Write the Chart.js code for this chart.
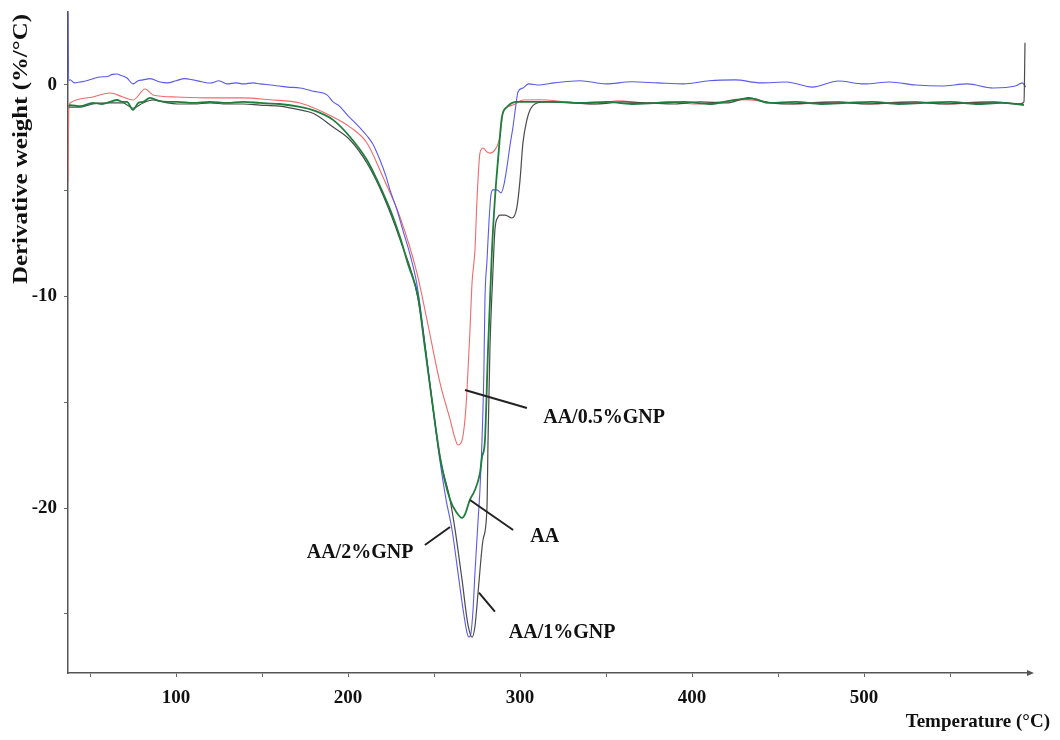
<!DOCTYPE html>
<html>
<head>
<meta charset="utf-8">
<script src="https://cdn.jsdelivr.net/npm/chart.js@4"></script>
<style>
  body { margin: 0; background: #fff; }
  canvas { display: block; }
</style>
</head>
<body>
<canvas id="dtgChart" width="1060" height="740"></canvas>
<script>
// DTG curves: temperature (°C) and derivative weight (%/°C)
const aaTemp = [37.5, 38.4, 44.2, 51.7, 57, 61.6, 65.7, 69.2, 71.5, 75, 78, 80.8, 84.9, 90, 95, 100.6, 110, 119.8, 129.6, 139, 148.8, 160, 172.1, 180, 191.3, 201.2, 211, 220.3, 225, 230.2, 235, 240.7, 244.5, 248.8, 253.5, 259.3, 263, 266.3, 268, 270.9, 273.8, 276.7, 277.9, 279.6, 281.4, 283.7, 285.4, 287.2, 289.5, 292.4, 298.2, 320, 335, 350, 365, 380, 395, 410, 425, 435, 445, 460, 475, 490, 505, 520, 535, 550, 565, 580, 593];
const aaDeriv = [-1.0, -0.95, -1.0, -0.85, -0.9, -0.8, -0.71, -0.8, -0.8, -1.18, -0.85, -0.8, -0.61, -0.75, -0.8, -0.8, -0.85, -0.8, -0.85, -0.8, -0.85, -0.9, -1.04, -1.2, -1.65, -2.46, -3.55, -5.1, -6.0, -7.19, -8.5, -10.0, -12.3, -14.9, -17.6, -19.6, -20.2, -20.47, -20.3, -19.6, -19.15, -18.35, -17.6, -16.8, -12.5, -7.8, -5.4, -3.55, -1.51, -1.04, -0.8, -0.8, -0.85, -0.8, -0.9, -0.85, -0.8, -0.9, -0.7, -0.65, -0.85, -0.8, -0.9, -0.85, -0.8, -0.9, -0.85, -0.8, -0.9, -0.85, -0.95];

const gnp05Temp = [37.2, 37.6, 38.4, 51.7, 61.6, 69.2, 75, 82.1, 86.6, 100.6, 119.8, 139, 154.6, 172.1, 191.3, 201.2, 211, 220.3, 230.2, 240.1, 245.9, 253.5, 259.3, 262.2, 263.9, 266.3, 268, 269.2, 270.9, 272.1, 273.8, 275, 276.7, 278.5, 280.8, 282.5, 285.4, 288.3, 290.1, 295.9, 301.7, 311.6, 327, 342, 357, 372, 387, 402, 417, 432, 447, 462, 477, 492, 507, 522, 537, 552, 567, 582, 593];
const gnp05Deriv = [-4.6, -1.2, -0.85, -0.57, -0.38, -0.57, -0.71, -0.19, -0.47, -0.57, -0.61, -0.61, -0.7, -0.85, -1.51, -1.99, -2.74, -4.35, -6.24, -8.89, -11.1, -14.1, -15.8, -16.7, -17.02, -16.8, -15.8, -14.4, -11.6, -9.36, -7.8, -5.4, -3.22, -2.98, -3.17, -3.22, -3.07, -2.46, -1.32, -0.95, -0.71, -0.7, -0.8, -0.9, -0.75, -0.85, -0.8, -0.9, -0.8, -0.7, -0.85, -0.9, -0.8, -0.85, -0.9, -0.8, -0.85, -0.9, -0.8, -0.85, -0.9];

const gnp1Temp = [37.5, 44.2, 51.7, 61.6, 69.2, 75, 80.8, 86.6, 95, 100.6, 110, 119.8, 129.6, 139, 148.8, 160, 172.1, 180, 191.3, 201.2, 211, 220.3, 230.2, 240.7, 248.8, 253.5, 259.3, 262.2, 266.3, 269.7, 272.1, 273.8, 275.6, 278.5, 280.8, 281.4, 282.5, 284.3, 285.4, 287.2, 288.3, 291.3, 295.3, 298.2, 300, 301.7, 304, 305.8, 309.9, 315.7, 330, 345, 360, 375, 390, 405, 420, 433, 440, 455, 470, 485, 500, 515, 530, 545, 560, 575, 590, 593, 593.6];
const gnp1Deriv = [-1.05, -1.05, -0.9, -0.85, -0.85, -1.1, -0.85, -0.7, -0.85, -0.9, -0.9, -0.85, -0.9, -0.9, -0.95, -1.0, -1.18, -1.35, -1.99, -2.6, -3.69, -5.2, -7.3, -10.1, -14.9, -17.6, -19.6, -21.0, -23.4, -25.5, -26.1, -25.6, -24.0, -21.5, -19.95, -16.8, -12.5, -8.75, -6.86, -6.24, -6.15, -6.15, -6.29, -5.77, -4.5, -2.74, -1.65, -1.18, -0.85, -0.8, -0.85, -0.9, -0.8, -0.85, -0.9, -0.8, -0.85, -0.6, -0.75, -0.9, -0.85, -0.8, -0.9, -0.85, -0.8, -0.9, -0.85, -0.8, -0.9, -0.8, 2.0];

const gnp2Temp = [37.2, 37.6, 38.4, 41, 44.2, 48, 52, 55.8, 60, 63, 65.7, 68, 71.5, 75, 78, 80.8, 85, 90.7, 95, 100, 105, 109.9, 115, 119.8, 125, 129.6, 135, 139, 145, 148.8, 155, 160, 165, 172.1, 180, 187.8, 191.3, 195, 199.4, 203, 207, 211, 214.5, 218.6, 222, 224.4, 228.5, 232, 236, 240, 242, 245, 248.8, 253.5, 257, 260.5, 264.5, 266.9, 269.2, 270.3, 271.5, 272.7, 273.8, 275.6, 276.7, 277.9, 279, 279.6, 280.8, 282, 283.1, 284.3, 286.6, 289, 290.7, 292.4, 294.2, 295.9, 297.6, 298.8, 301.7, 305, 311.6, 320, 335, 350, 365, 380, 395, 410, 425, 440, 455, 470, 485, 500, 515, 530, 545, 560, 575, 588, 592, 594];
const gnp2Deriv = [3.45, 0.2, 0.25, 0.1, 0.14, 0.2, 0.3, 0.38, 0.4, 0.5, 0.52, 0.45, 0.33, 0.05, 0.2, 0.24, 0.3, 0.14, 0.1, 0.2, 0.3, 0.24, 0.15, 0.09, 0.2, 0.05, 0.1, 0.05, 0.1, 0.05, 0, -0.05, -0.1, -0.14, -0.3, -0.47, -0.8, -1.0, -1.4, -1.7, -2.03, -2.4, -2.8, -3.55, -4.3, -4.96, -5.91, -6.9, -8.0, -9.4, -10.5, -12.4, -14.9, -17.8, -19.6, -21.04, -23.4, -24.8, -25.9, -26.1, -25.9, -24.8, -23.07, -20.6, -19.15, -16.8, -13.5, -10.2, -8.3, -6.4, -5.2, -4.96, -4.96, -5.1, -4.7, -3.88, -2.84, -1.99, -0.95, -0.33, -0.14, 0.05, 0, 0.1, 0.2, 0.05, 0.15, 0.1, 0.05, 0.2, 0.24, 0.1, 0.14, -0.1, 0.19, 0.05, 0.14, 0, -0.05, 0.05, -0.14, -0.05, 0.1, -0.1];

const xTickValues = [50, 100, 150, 200, 250, 300, 350, 400, 450, 500, 550];
const yTickValues = [-25, -20, -15, -10, -5, 0];

// leader lines and curve labels (data coordinates)
const callouts = [
  { text: 'AA/0.5%GNP', from: [268, -14.42], to: [304, -15.27], at: [313.5, -15.75], align: 'left' },
  { text: 'AA', from: [270.9, -19.62], to: [296, -21.04], at: [306, -21.35], align: 'left' },
  { text: 'AA/2%GNP', from: [244.7, -21.75], to: [259.3, -20.9], at: [238, -22.1], align: 'right' },
  { text: 'AA/1%GNP', from: [276.1, -24.0], to: [285.4, -24.9], at: [293.5, -25.9], align: 'left' }
];

const pairs = (xs, ys) => xs.map((x, i) => ({ x: x, y: ys[i] }));
const serif = "'Liberation Serif', 'DejaVu Serif', serif";

const decorations = {
  id: 'decorations',
  afterDatasetsDraw(chart) {
    const { ctx, scales: { x, y }, chartArea } = chart;
    ctx.save();
    // arrow head on the temperature axis
    ctx.fillStyle = '#555';
    ctx.beginPath();
    ctx.moveTo(chartArea.right + 4, chartArea.bottom);
    ctx.lineTo(chartArea.right - 3, chartArea.bottom - 3);
    ctx.lineTo(chartArea.right - 3, chartArea.bottom + 3);
    ctx.closePath();
    ctx.fill();

    ctx.strokeStyle = '#222';
    ctx.lineWidth = 2;
    ctx.fillStyle = '#111';
    ctx.font = "bold 20px " + serif;
    ctx.textBaseline = 'middle';
    callouts.forEach(c => {
      ctx.beginPath();
      ctx.moveTo(x.getPixelForValue(c.from[0]), y.getPixelForValue(c.from[1]));
      ctx.lineTo(x.getPixelForValue(c.to[0]), y.getPixelForValue(c.to[1]));
      ctx.stroke();
      ctx.textAlign = c.align;
      ctx.fillText(c.text, x.getPixelForValue(c.at[0]), y.getPixelForValue(c.at[1]));
    });

    // axis titles
    ctx.font = "bold 19px " + serif;
    ctx.textAlign = 'right';
    ctx.fillText('Temperature (\u00B0C)', 1050, 722);

    const yTitle = 'Derivative weight (%/\u00B0C)';
    ctx.font = "bold 21px " + serif;
    const stretch = 270 / ctx.measureText(yTitle).width;
    ctx.translate(22, 149);
    ctx.rotate(-Math.PI / 2);
    ctx.scale(stretch, 1);
    ctx.textAlign = 'center';
    ctx.fillText(yTitle, 0, 0);
    ctx.restore();
  }
};

new Chart(document.getElementById('dtgChart'), {
  type: 'line',
  data: {
    datasets: [
      { label: 'AA', data: pairs(aaTemp, aaDeriv), borderColor: '#1f7d3d', borderWidth: 1.8, order: 0 },
      { label: 'AA/1%GNP', data: pairs(gnp1Temp, gnp1Deriv), borderColor: '#4a4a4a', borderWidth: 1.2, order: 1 },
      { label: 'AA/2%GNP', data: pairs(gnp2Temp, gnp2Deriv), borderColor: '#5a5ae8', borderWidth: 1.1, order: 2 },
      { label: 'AA/0.5%GNP', data: pairs(gnp05Temp, gnp05Deriv), borderColor: '#ef6a6a', borderWidth: 1.1, order: 3 }
    ]
  },
  options: {
    responsive: false,
    animation: false,
    parsing: false,
    layout: { padding: { top: 12, right: 30, left: 0, bottom: 0 } },
    elements: {
      point: { radius: 0 },
      line: { tension: 0.3, cubicInterpolationMode: 'monotone', fill: false }
    },
    plugins: {
      legend: { display: false },
      tooltip: { enabled: false }
    },
    scales: {
      x: {
        type: 'linear',
        min: 37.2,
        max: 596.5,
        afterBuildTicks: s => { s.ticks = xTickValues.map(v => ({ value: v })); },
        afterFit: s => { s.height = 67; s.paddingLeft = 0; s.paddingRight = 0; },
        grid: { drawOnChartArea: false, tickLength: 4, color: '#666' },
        border: { color: '#555', width: 1.5 },
        ticks: {
          padding: 10,
          maxRotation: 0,
          autoSkip: false,
          color: '#111',
          font: { family: serif, size: 19, weight: 'bold' },
          callback: v => (v % 100 === 0 ? v : '')
        }
      },
      y: {
        type: 'linear',
        min: -27.8,
        max: 3.45,
        afterBuildTicks: s => { s.ticks = yTickValues.map(v => ({ value: v })); },
        afterFit: s => { s.width = 68; s.paddingTop = 0; s.paddingBottom = 0; },
        grid: { drawOnChartArea: false, tickLength: 4, color: '#666' },
        border: { color: '#555', width: 1.5 },
        ticks: {
          padding: 7,
          autoSkip: false,
          color: '#111',
          font: { family: serif, size: 19, weight: 'bold' },
          callback: v => (v % 10 === 0 ? v : '')
        }
      }
    }
  },
  plugins: [decorations]
});
</script>
</body>
</html>
